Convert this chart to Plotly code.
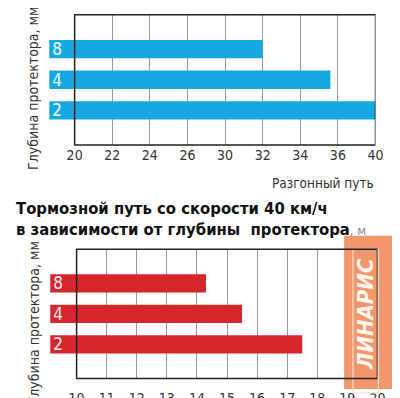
import numpy as np
import plotly.graph_objects as go

# ---------------- data ----------------
depth_labels = ["8", "4", "2"]                       # tread depth, mm
accel_values = [32, 35.6, 40]                          # Разгонный путь
accel_ticks = [20, 22, 24, 26, 30, 32, 34, 36, 40]    # tick labels as printed
brake_values = [14.3, 15.5, 17.5]                      # Тормозной путь, м
brake_ticks = [10, 11, 12, 13, 14, 15, 16, 17, 18, 19, 20]

BLUE = "#17a8e1"
RED = "#d6262d"
FONT = "DejaVu Sans Condensed, Liberation Sans Narrow, Arial Narrow, sans-serif"
W, H = 400, 398


def px(x):
    return x / W


def py(y):
    return 1 - y / H


# top chart geometry (irregular printed ticks -> evenly spaced positions)
top_axis_px, top_right_px, top_bar_px = 68, 375, 42
top_pos = np.arange(len(accel_ticks))
top_unit = (top_right_px - top_axis_px) / (len(accel_ticks) - 1)
top_lead = (top_axis_px - top_bar_px) / top_unit
accel_pos = np.interp(accel_values, accel_ticks, top_pos)
top_base = -top_lead

# bottom chart geometry
bot_axis_px, bot_right_px, bot_bar_px = 70, 377, 43
bot_unit = (bot_right_px - bot_axis_px) / (brake_ticks[-1] - brake_ticks[0])
bot_lead = (bot_axis_px - bot_bar_px) / bot_unit
bot_base = brake_ticks[0] - bot_lead

fig = go.Figure()
fig.add_trace(go.Bar(
    y=depth_labels, x=accel_pos - top_base, base=top_base, orientation="h",
    marker=dict(color=BLUE, line=dict(width=0)), width=0.6,
    text=depth_labels, textposition="inside", insidetextanchor="start", textangle=0,
    textfont=dict(color="#eaffff", size=17, family=FONT),
    xaxis="x", yaxis="y", hoverinfo="skip",
))
fig.add_trace(go.Bar(
    y=depth_labels, x=np.array(brake_values) - bot_base, base=bot_base, orientation="h",
    marker=dict(color=RED, line=dict(width=0)), width=0.6,
    text=depth_labels, textposition="inside", insidetextanchor="start", textangle=0,
    textfont=dict(color="#fff0f0", size=17, family=FONT),
    xaxis="x2", yaxis="y2", hoverinfo="skip",
))

yrange = [len(depth_labels) - 1 + 1.125, -1.125]
common_x = dict(showgrid=True, gridcolor="#9a9a9a", gridwidth=1, zeroline=False,
                showline=False, ticks="", tickfont=dict(size=14, color="#333333", family=FONT))
common_y = dict(type="category", categoryorder="array", categoryarray=depth_labels,
                showgrid=False, zeroline=False, showticklabels=False, showline=False, ticks="")

fig.update_layout(
    width=W, height=H, margin=dict(l=0, r=0, t=0, b=0),
    paper_bgcolor="white", plot_bgcolor="white", showlegend=False,
    uniformtext=dict(mode="show", minsize=17),
    font=dict(family=FONT, color="#333333"),
    xaxis=dict(domain=[px(top_bar_px), px(top_right_px)], range=[top_base, top_pos[-1]],
               tickmode="array", tickvals=list(top_pos), ticktext=[str(t) for t in accel_ticks],
               anchor="y", **common_x),
    yaxis=dict(domain=[py(143), py(7)], range=yrange, anchor="x", **common_y),
    xaxis2=dict(domain=[px(bot_bar_px), px(bot_right_px)], range=[bot_base, brake_ticks[-1]],
                tickmode="array", tickvals=brake_ticks, ticktext=[str(t) for t in brake_ticks],
                anchor="y2", ticklabelstandoff=10, **common_x),
    yaxis2=dict(domain=[py(387), py(252)], range=yrange, anchor="x2", **common_y),
)

shapes = []
# watermark
shapes.append(dict(type="rect", xref="paper", yref="paper", x0=px(343), x1=px(393),
                   y0=0, y1=py(238), fillcolor="#f2976b", line=dict(width=0), layer="above"))
shapes.append(dict(type="rect", xref="paper", yref="paper", x0=px(352), x1=px(378),
                   y0=-0.01, y1=py(252), fillcolor="rgba(0,0,0,0)",
                   line=dict(color="#fde0d0", width=1.2), layer="above"))
# frames
shapes.append(dict(type="rect", xref="x", yref="y domain", x0=0, x1=top_pos[-1], y0=0, y1=1,
                   line=dict(color="#222222", width=1.5), layer="above"))
shapes.append(dict(type="rect", xref="x2", yref="y2 domain", x0=brake_ticks[0], x1=brake_ticks[-1],
                   y0=0, y1=1, line=dict(color="#222222", width=1.5), layer="above"))
fig.update_layout(shapes=shapes)

ann = [
    dict(text="Разгонный путь", x=px(375), y=py(183), xref="paper", yref="paper",
         xanchor="right", yanchor="middle", showarrow=False,
         font=dict(size=13.5, color="#333333", family=FONT)),
    dict(text="Глубина протектора, мм", x=px(26), y=py(84), xref="paper", yref="paper",
         xanchor="center", yanchor="middle", textangle=-90, showarrow=False,
         font=dict(size=14, color="#333333", family=FONT)),
    dict(text="Глубина протектора, мм", x=px(26), y=py(329), xref="paper", yref="paper",
         xanchor="center", yanchor="middle", textangle=-90, showarrow=False,
         font=dict(size=14, color="#333333", family=FONT)),
    dict(text="<b>Тормозной путь со скорости 40 км/ч</b><br>"
              "<b>в зависимости от глубины  протектора</b>"
              "<span style='color:#8a8a8a;font-size:13px'>, м</span>",
         x=px(6), y=py(220), xref="paper", yref="paper", xanchor="left", yanchor="middle",
         align="left", showarrow=False, font=dict(size=16.5, color="#111111", family=FONT)),
    dict(text="<b><i>ЛИНАРИС</i></b>", x=px(365), y=py(320), xref="paper", yref="paper",
         xanchor="center", yanchor="middle", textangle=-90, showarrow=False,
         font=dict(size=22, color="#fff4ee", family=FONT)),
]
fig.update_layout(annotations=ann)

fig.write_html("out.html")
